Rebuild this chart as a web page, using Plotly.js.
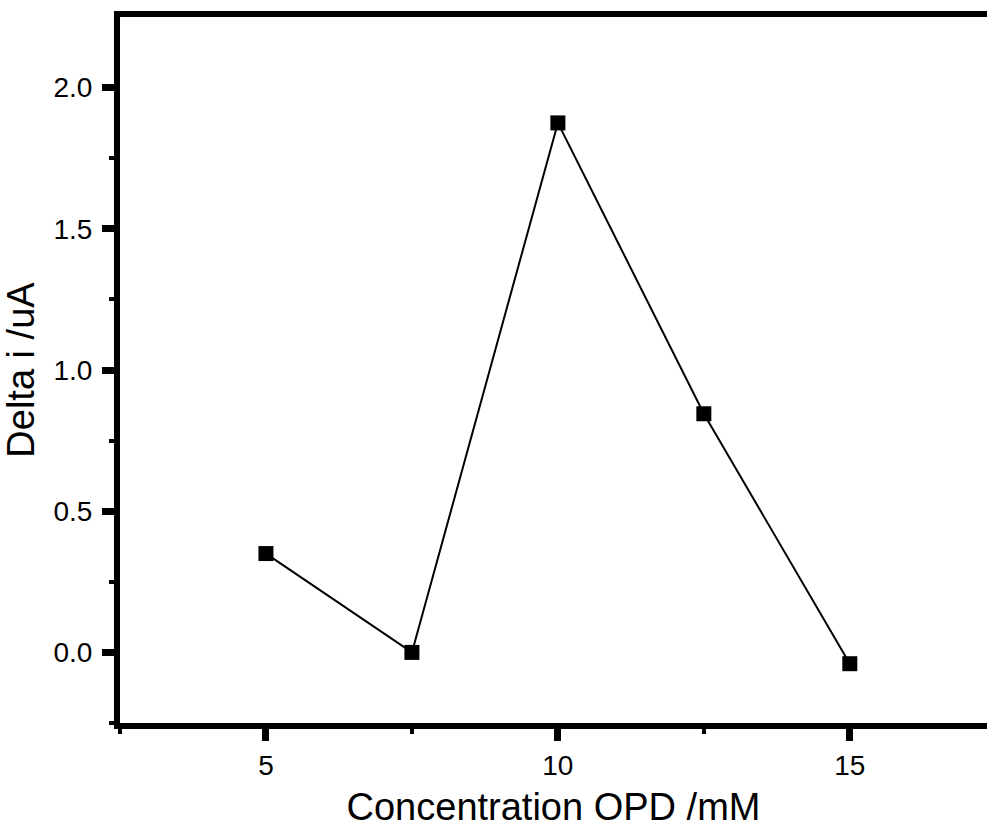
<!DOCTYPE html>
<html>
<head>
<meta charset="utf-8">
<script src="https://cdn.plot.ly/plotly-3.0.1.min.js"></script>
<style>html,body{margin:0;padding:0;background:#fff;overflow:hidden}</style>
</head>
<body>
<div id="chart" style="width:987px;height:830px"></div>
<script>
const concentration = [5, 7.5, 10, 12.5, 15];
const deltaI = [0.35, 0.0, 1.875, 0.845, -0.04];
const yTickVals = [0, 0.5, 1.0, 1.5, 2.0];
const yTickText = ["0.0", "0.5", "1.0", "1.5", "2.0"];
const yMinorVals = [-0.25, 0.25, 0.75, 1.25, 1.75];
const xTickVals = [5, 10, 15];
const xTickText = ["5", "10", "15"];
const xMinorVals = [2.5, 7.5, 12.5];

const font = "Liberation Sans, Arial, sans-serif";

const trace = {
  x: concentration,
  y: deltaI,
  type: "scatter",
  mode: "lines+markers",
  line: {color: "#000", width: 2},
  marker: {symbol: "square", size: 15, color: "#000"},
  hoverinfo: "none"
};

const layout = {
  width: 987,
  height: 830,
  margin: {l: 120, r: 0, t: 17, b: 107, pad: 0},
  paper_bgcolor: "#fff",
  plot_bgcolor: "#fff",
  showlegend: false,
  font: {family: font, color: "#000"},
  xaxis: {
    range: [2.5, 17.35],
    tickmode: "array",
    tickvals: xTickVals,
    ticktext: xTickText,
    ticks: "outside",
    ticklen: 12,
    tickwidth: 7,
    tickcolor: "#000",
    showline: true,
    linewidth: 6,
    linecolor: "#000",
    mirror: true,
    showgrid: false,
    zeroline: false,
    tickfont: {family: font, size: 28, color: "#000"},
    minor: {tickmode: "array", tickvals: xMinorVals, ticks: "outside", ticklen: 5, tickwidth: 4, tickcolor: "#000", showgrid: false},
    title: {text: "Concentration OPD /mM", font: {family: font, size: 38, color: "#000"}, standoff: 16},
    automargin: false
  },
  yaxis: {
    range: [-0.25, 2.25],
    tickmode: "array",
    tickvals: yTickVals,
    ticktext: yTickText,
    ticks: "outside",
    ticklen: 12,
    tickwidth: 7,
    tickcolor: "#000",
    showline: true,
    linewidth: 6,
    linecolor: "#000",
    mirror: false,
    showgrid: false,
    zeroline: false,
    ticklabelstandoff: 4,
    tickfont: {family: font, size: 28, color: "#000"},
    minor: {tickmode: "array", tickvals: yMinorVals, ticks: "outside", ticklen: 5, tickwidth: 4, tickcolor: "#000", showgrid: false},
    title: {text: "Delta i /uA", font: {family: font, size: 38, color: "#000"}, standoff: 16},
    automargin: false
  }
};

Plotly.newPlot("chart", [trace], layout, {displayModeBar: false, staticPlot: true});
</script>
</body>
</html>
